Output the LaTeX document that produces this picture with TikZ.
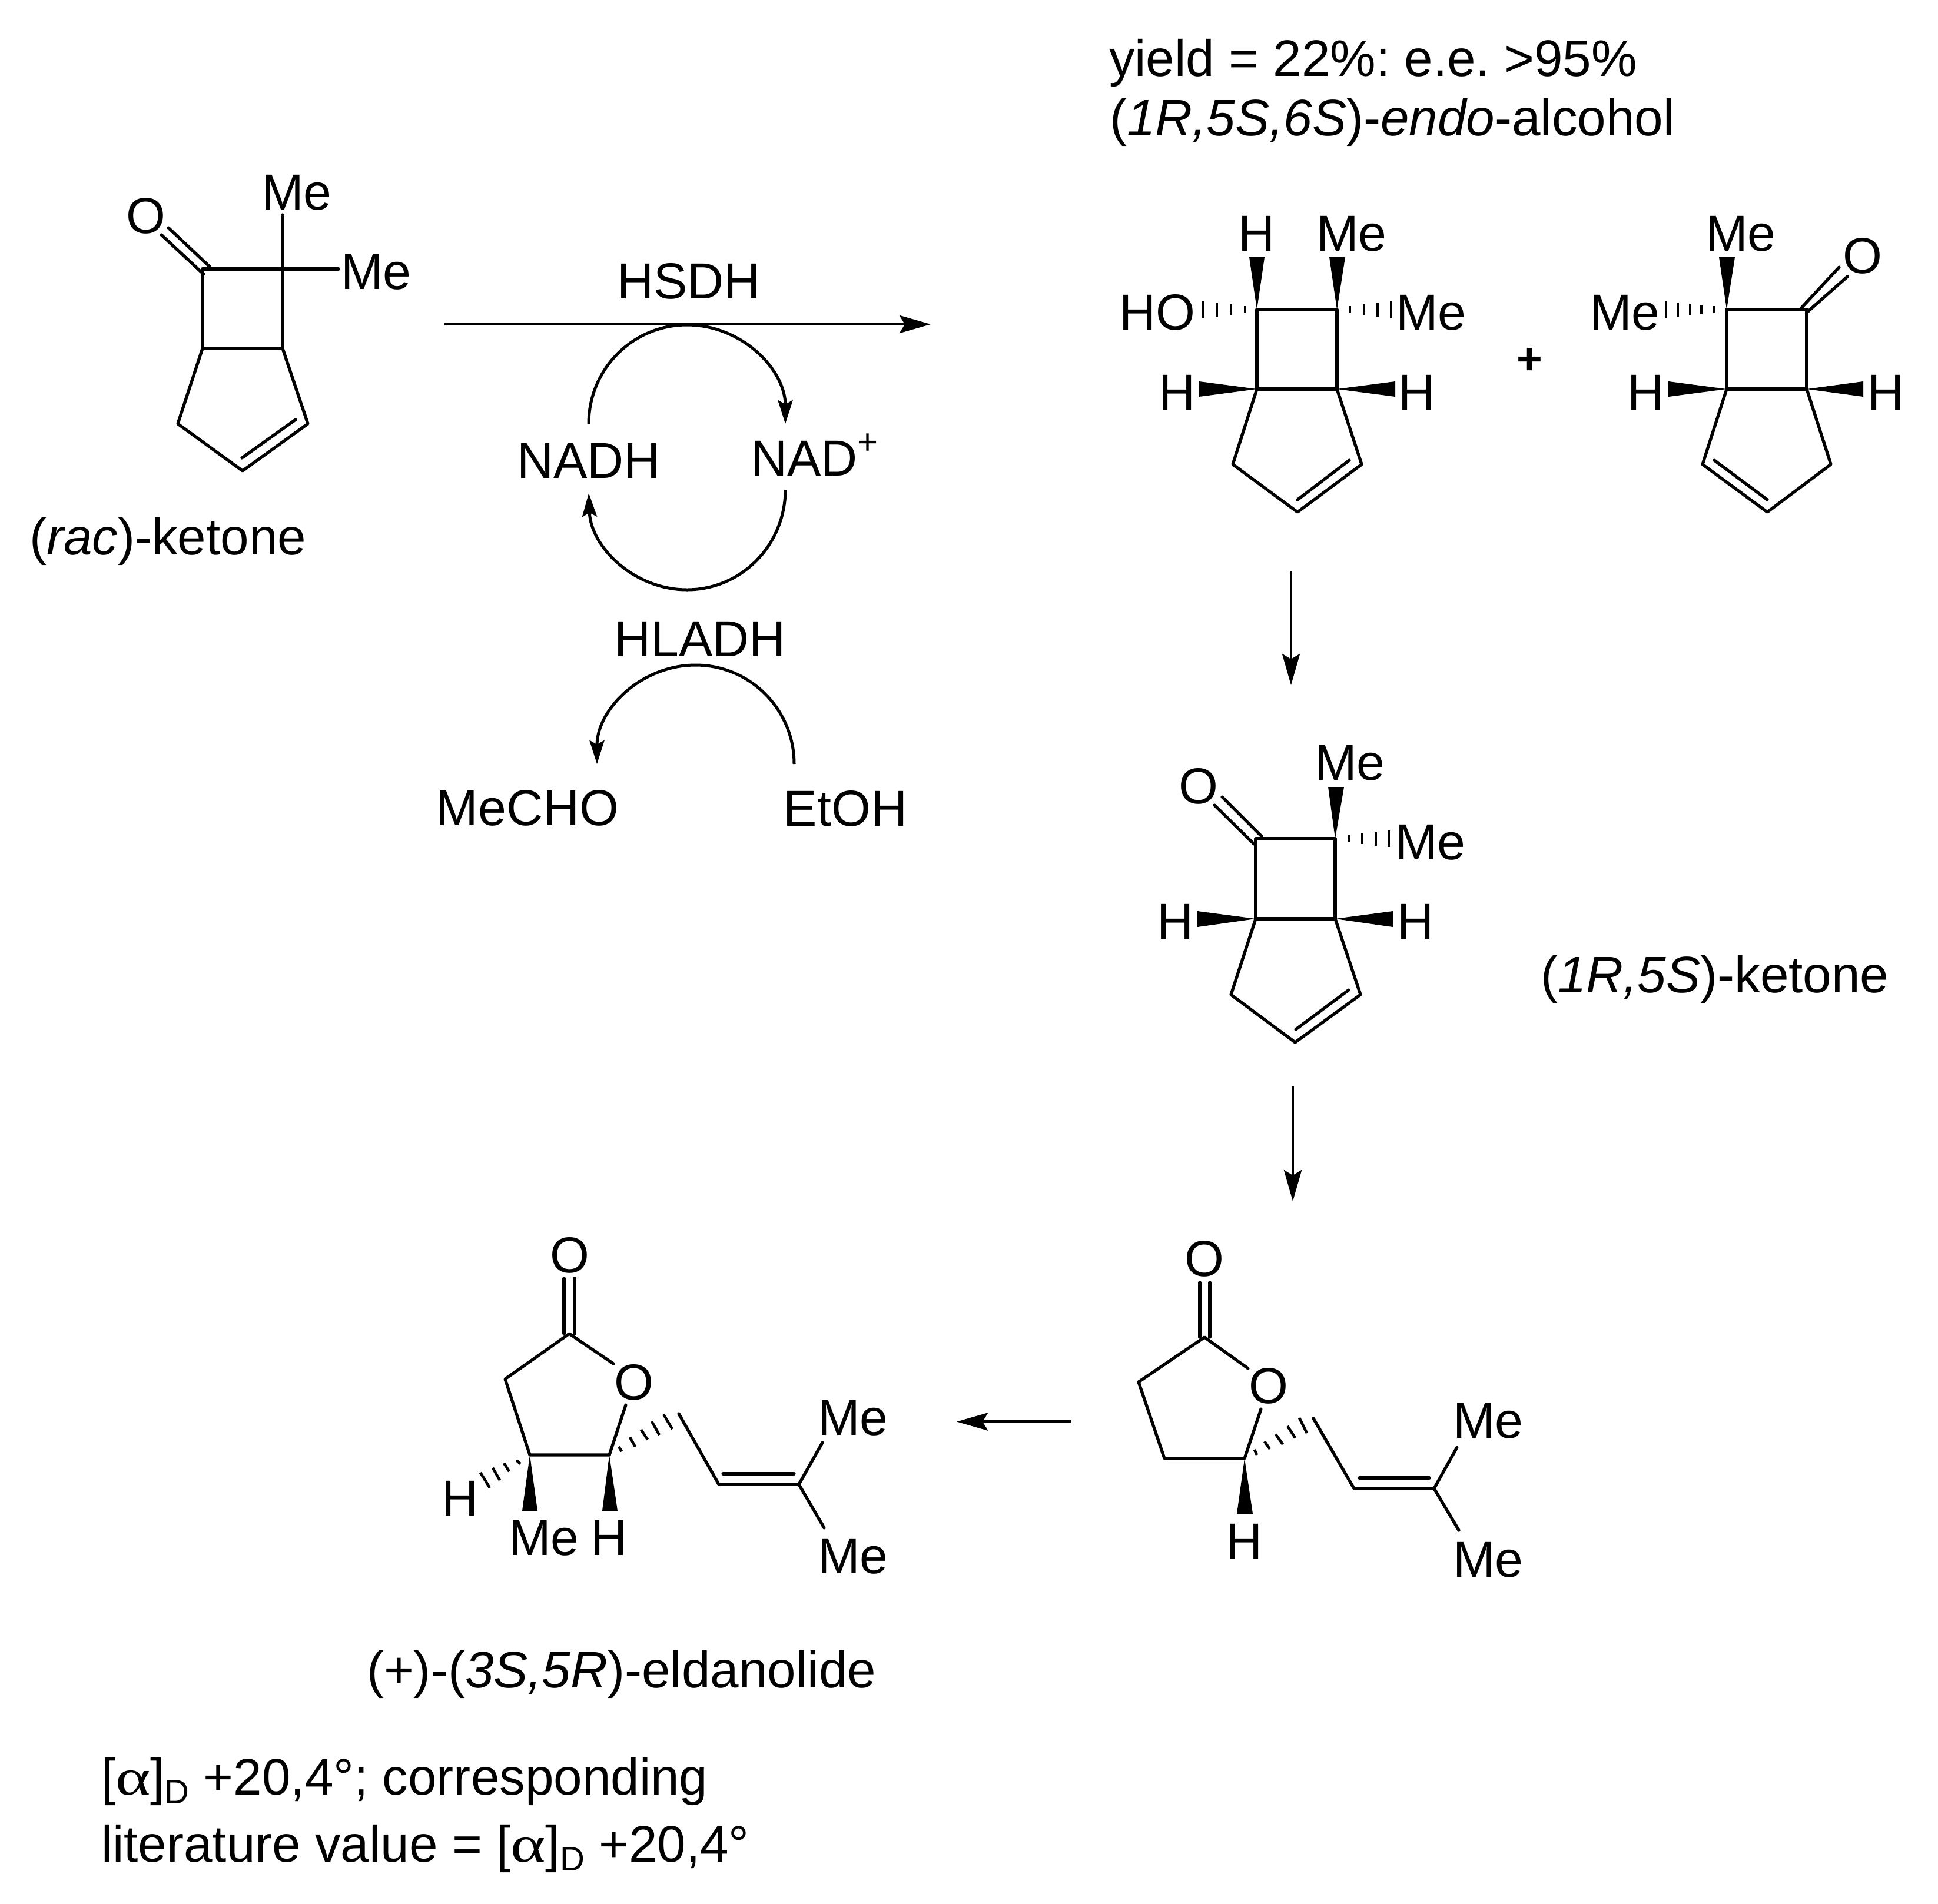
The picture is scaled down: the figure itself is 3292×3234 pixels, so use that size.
\documentclass[tikz,border=0pt]{standalone}
\usepackage{fontspec}
\setmainfont{Liberation Sans}
\usetikzlibrary{arrows.meta}
\frenchspacing
\newcommand{\subD}{\raisebox{-15pt}{\fontsize{58}{60}\selectfont D}}
\newcommand{\alfa}{{\fontspec{Liberation Serif}\scalebox{1.3}[1]{α}}}
\tikzset{
  x=1pt,y=-1pt,
  bond/.style={line width=5.2pt,line join=round,line cap=round,black},
  hashbar/.style={line width=4.5pt,black},
  wedge/.style={fill=black,draw=none},
  atom/.style={inner sep=0pt,outer sep=0pt,anchor=base,font=\fontsize{86}{100}\selectfont},
  caption/.style={inner sep=0pt,outer sep=0pt,anchor=base west,font=\fontsize{87.2}{100}\selectfont},
  rxn/.style={line width=4.8pt,black,-{Stealth[length=53pt,width=30pt,inset=9pt]}},
  cyc/.style={line width=5pt,black,-{Stealth[length=40pt,width=25pt,inset=7pt]}}
}
\begin{document}
\begin{tikzpicture}
\useasboundingbox (0,0) rectangle (3292,3234);
% ---------- rac-ketone
\coordinate (a1) at (344,457); \coordinate (a2) at (480,457);
\coordinate (a3) at (480,592); \coordinate (a4) at (344,592);
\coordinate (a5) at (302,720); \coordinate (a6) at (412,800); \coordinate (a7) at (523,720);
\draw[bond] (a1)--(a2)--(a3)--(a4)--cycle;
\draw[bond] (a4)--(a5)--(a6)--(a7)--(a3);
\draw[bond] (502,713)--(411,778);
\draw[bond] (346,466)--(274,399);
\draw[bond] (356,453)--(286,387);
\node[atom] (aO) at (248,396) {O};
\node[atom] (aMe1) at (504,356) {Me};
\node[atom] (aMe2) at (639,491) {Me};
\coordinate (aT) at (480,365);
\coordinate (aR) at (575,457);
\draw[bond] (a2)--(aT);
\draw[bond] (a2)--(aR);
\node[caption] (aCap) at (50,942) {(\textit{rac})-ketone};
% ---------- central scheme
\coordinate (mS) at (755,551); \coordinate (mE) at (1581,551);
\draw[rxn] (mS)--(mE);
\node[atom] (hsdh) at (1170,507) {HSDH};
\node[atom] (nadh) at (1000,812) {NADH};
\node[atom,anchor=base west] (nad) at (1275,808) {NAD\raisebox{37pt}{\fontsize{60}{60}\selectfont +}};
\node[atom] (hladh) at (1189,1115) {HLADH};
\node[atom] (mecho) at (896,1402) {MeCHO};
\node[atom] (etoh) at (1436,1403) {EtOH};
\coordinate (c1) at (1000,720);
\coordinate (c2) at (1334,832);
\coordinate (c3) at (1349,1298);
\draw[cyc] (c1) arc[start angle=180,end angle=0,x radius=167pt,y radius=168pt];
\draw[cyc] (c2) arc[start angle=0,end angle=-178,x radius=167pt,y radius=170pt];
\draw[cyc] (c3) arc[start angle=0,end angle=180,x radius=167.5pt,y radius=168pt];
% ---------- header
\node[caption] (yield) at (1884,129) {yield = 22\%: e.e. >95\%};
\node[caption] (ealc) at (1885,230) {(\textit{1R,5S,6S})-\textit{endo}-alcohol};
% ---------- endo alcohol and second ketone
\coordinate (b1) at (2135,526); \coordinate (b2) at (2271,526);
\coordinate (b3) at (2271,661); \coordinate (b4) at (2135,661);
\coordinate (b5) at (2094,789); \coordinate (b6) at (2204,870); \coordinate (b7) at (2313,789);
\draw[bond] (b1)--(b2)--(b3)--(b4)--cycle;
\draw[bond] (b4)--(b5)--(b6)--(b7)--(b3);
\draw[bond] (2292,782)--(2204,849);
\fill[wedge] (b1)--(2122,437)--(2148,437)--cycle;
\fill[wedge] (b2)--(2258,437)--(2285,437)--cycle;
\fill[wedge] (b4)--(2037,648)--(2037,674)--cycle;
\fill[wedge] (b3)--(2370,648)--(2370,674)--cycle;
\foreach \hx/\hh in {2115/6,2091/9,2067/11.5,2043/14}{\draw[hashbar] (\hx,526-\hh)--(\hx,526+\hh);}
\foreach \hx/\hh in {2293/6,2317/9,2340/11.5,2363/14}{\draw[hashbar] (\hx,526-\hh)--(\hx,526+\hh);}
\node[atom] (bH1) at (2135,426) {H};
\node[atom] (bMe1) at (2296,426) {Me};
\node[atom] (bHO) at (1966,560) {HO};
\node[atom] (bMe2) at (2431,560) {Me};
\node[atom] (bH2) at (2000,696) {H};
\node[atom] (bH3) at (2407,696) {H};
\node[atom,font=\bfseries\fontsize{75}{80}\selectfont] (plus) at (2598,635) {+};
\coordinate (d1) at (2933,526); \coordinate (d2) at (3069,526);
\coordinate (d3) at (3069,661); \coordinate (d4) at (2933,661);
\coordinate (d5) at (2892,789); \coordinate (d6) at (3002,870); \coordinate (d7) at (3110,789);
\draw[bond] (d1)--(d2)--(d3)--(d4)--cycle;
\draw[bond] (d4)--(d5)--(d6)--(d7)--(d3);
\draw[bond] (2912,782)--(3002,849);
\draw[bond] (3060,523)--(3124,454);
\draw[bond] (3069,531)--(3138,470);
\fill[wedge] (d1)--(2920,437)--(2947,437)--cycle;
\fill[wedge] (d4)--(2834,648)--(2834,674)--cycle;
\fill[wedge] (d3)--(3165,648)--(3165,674)--cycle;
\foreach \hx/\hh in {2912/6,2890/8,2871/10,2850/12,2830/14}{\draw[hashbar] (\hx,526-\hh)--(\hx,526+\hh);}
\node[atom] (dMe1) at (2957,426) {Me};
\node[atom] (dO) at (3164,464) {O};
\node[atom] (dMe2) at (2760,560) {Me};
\node[atom] (dH1) at (2796,696) {H};
\node[atom] (dH2) at (3204,696) {H};
% ---------- arrows on the right
\coordinate (v1s) at (2193,970); \coordinate (v1e) at (2193,1164);
\draw[rxn] (v1s)--(v1e);
\coordinate (v2s) at (2196,1845); \coordinate (v2e) at (2196,2041);
\draw[rxn] (v2s)--(v2e);
\coordinate (h1s) at (1820,2415.5); \coordinate (h1e) at (1625,2415.5);
\draw[rxn] (h1s)--(h1e);
% ---------- (1R,5S)-ketone
\coordinate (e1) at (2133,1425); \coordinate (e2) at (2268,1425);
\coordinate (e3) at (2268,1561); \coordinate (e4) at (2133,1561);
\coordinate (e5) at (2091,1690); \coordinate (e6) at (2200,1771); \coordinate (e7) at (2311,1690);
\draw[bond] (e1)--(e2)--(e3)--(e4)--cycle;
\draw[bond] (e4)--(e5)--(e6)--(e7)--(e3);
\draw[bond] (2291,1682)--(2201,1749);
\draw[bond] (2130,1434)--(2063,1368);
\draw[bond] (2143,1421)--(2076,1354);
\fill[wedge] (e2)--(2256,1337)--(2283,1337)--cycle;
\fill[wedge] (e4)--(2034,1548)--(2034,1575)--cycle;
\fill[wedge] (e3)--(2366,1548)--(2366,1575)--cycle;
\foreach \hx/\hh in {2291/6,2314/9,2337/11.5,2359/14}{\draw[hashbar] (\hx,1425-\hh)--(\hx,1425+\hh);}
\node[atom] (eMe1) at (2293,1325) {Me};
\node[atom] (eO) at (2036,1365) {O};
\node[atom] (eMe2) at (2430,1460) {Me};
\node[atom] (eH1) at (1997,1595) {H};
\node[atom] (eH2) at (2405,1595) {H};
\node[caption] (eCap) at (2617,1686) {(\textit{1R,5S})-ketone};
% ---------- lactone (right)
\coordinate (f1) at (2046,2272); \coordinate (f2) at (1934,2348);
\coordinate (f3) at (1978,2478); \coordinate (f4) at (2114,2478);
\coordinate (f5) at (2231,2410); \coordinate (f6) at (2300,2529); \coordinate (f7) at (2436,2529);
\draw[bond] (2120,2325)--(f1)--(f2)--(f3)--(f4)--(2142,2394);
\draw[bond] (f5)--(f6)--(f7);
\draw[bond] (2309,2511)--(2428,2511);
\draw[bond] (f7)--(2475,2459);
\draw[bond] (f7)--(2478,2600);
\draw[bond] (2038,2272)--(2038,2179);
\draw[bond] (2055,2272)--(2055,2179);
\fill[wedge] (f4)--(2101,2572)--(2128,2572)--cycle;
\draw[hashbar] (2131,2463)--(2135,2472);
\draw[hashbar] (2148,2449)--(2157,2462);
\draw[hashbar] (2167,2437)--(2179,2454);
\draw[hashbar] (2187,2423)--(2200,2443);
\draw[hashbar] (2207,2409)--(2220,2435);
\node[atom] (fO1) at (2046,2168) {O};
\node[atom] (fO2) at (2155,2384) {O};
\node[atom] (fH) at (2114,2648) {H};
\node[atom] (fMe1) at (2528,2443) {Me};
\node[atom] (fMe2) at (2528,2679) {Me};
% ---------- eldanolide (left)
\coordinate (g1) at (967,2266); \coordinate (g2) at (858,2343);
\coordinate (g3) at (900,2472); \coordinate (g4) at (1035,2472);
\coordinate (g5) at (1153,2402); \coordinate (g6) at (1221,2522); \coordinate (g7) at (1357,2522);
\draw[bond] (1042,2317)--(g1)--(g2)--(g3)--(g4)--(1063,2387);
\draw[bond] (g5)--(g6)--(g7);
\draw[bond] (1228,2504)--(1349,2504);
\draw[bond] (g7)--(1397,2451);
\draw[bond] (g7)--(1400,2596);
\draw[bond] (958,2266)--(958,2172);
\draw[bond] (976,2266)--(976,2172);
\fill[wedge] (g3)--(887,2567)--(913,2567)--cycle;
\fill[wedge] (g4)--(1023,2567)--(1049,2567)--cycle;
\draw[hashbar] (816,2502)--(832,2528);
\draw[hashbar] (837,2494)--(849,2515);
\draw[hashbar] (856,2486)--(865,2500);
\draw[hashbar] (877,2481)--(884,2487);
\draw[hashbar] (1051,2458)--(1056,2466);
\draw[hashbar] (1070,2442)--(1079,2458);
\draw[hashbar] (1089,2429)--(1100,2446);
\draw[hashbar] (1107,2415)--(1120,2438);
\draw[hashbar] (1127,2403)--(1142,2428);
\node[atom] (gO1) at (968,2162) {O};
\node[atom] (gO2) at (1077,2378) {O};
\node[atom] (gH1) at (782,2575) {H};
\node[atom] (gMe) at (924,2642) {Me};
\node[atom] (gH2) at (1035,2642) {H};
\node[atom] (gMe1) at (1449,2438) {Me};
\node[atom] (gMe2) at (1449,2673) {Me};
\node[caption] (gCap) at (623,2867) {(+)-(\textit{3S,5R})-eldanolide};
\node[caption] (n1) at (172,3049) {[\alfa]\subD{} +20,4°; corresponding};
\node[caption] (n2) at (172,3163) {literature value = [\alfa]\subD{} +20,4°};
\end{tikzpicture}
\end{document}
